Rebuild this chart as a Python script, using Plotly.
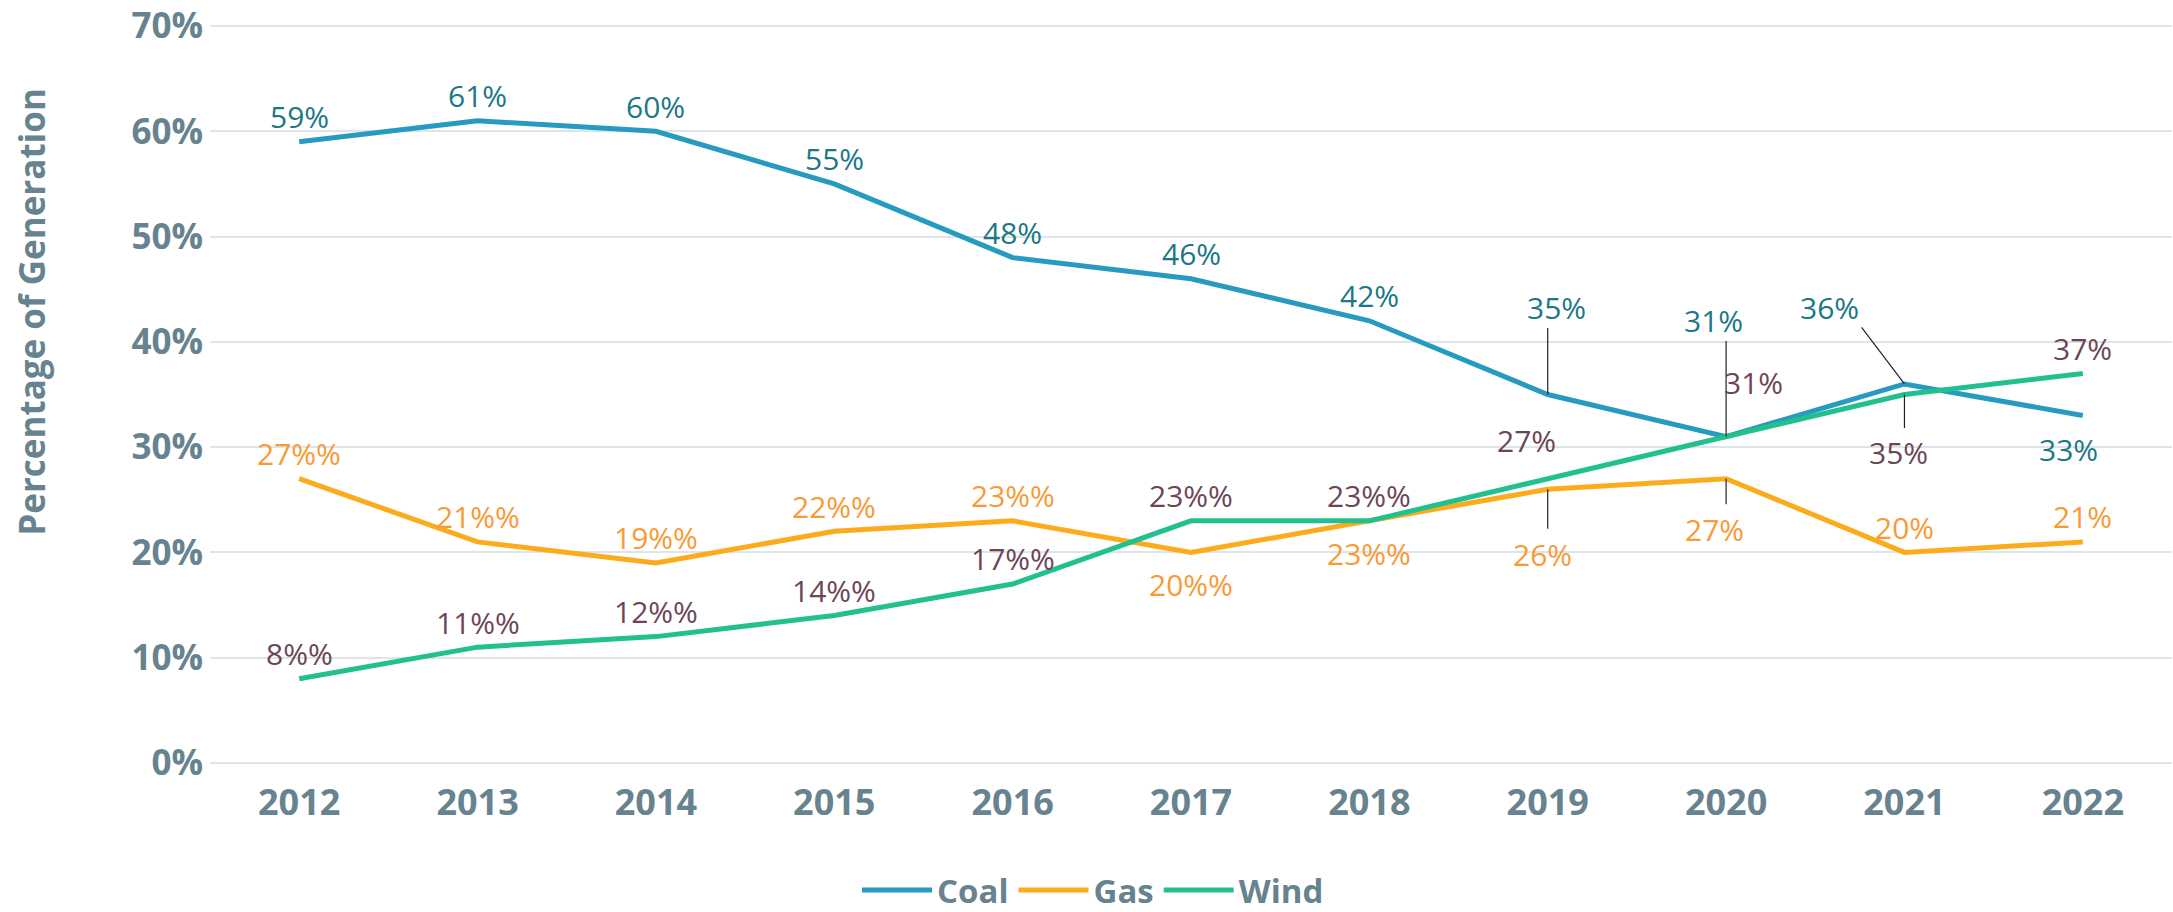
import plotly.graph_objects as go

# ---------------- data ----------------
years = [2012, 2013, 2014, 2015, 2016, 2017, 2018, 2019, 2020, 2021, 2022]
coal = [59, 61, 60, 55, 48, 46, 42, 35, 31, 36, 33]
gas = [27, 21, 19, 22, 23, 20, 23, 26, 27, 20, 21]
wind = [8, 11, 12, 14, 17, 23, 23, 27, 31, 35, 37]

coal_labels = ["59%", "61%", "60%", "55%", "48%", "46%", "42%", "35%", "31%", "36%", "33%"]
gas_labels = ["27%%", "21%%", "19%%", "22%%", "23%%", "20%%", "23%%", "26%", "27%", "20%", "21%"]
wind_labels = ["8%%", "11%%", "12%%", "14%%", "17%%", "23%%", "23%%", "27%", "31%", "35%", "37%"]

y_ticks = [0, 10, 20, 30, 40, 50, 60, 70]

# ---------------- styling ----------------
AXIS_GRAY = "#67838f"
FONT = "Open Sans"

# label offsets (dx, dy in px, +dy = up) and optional leader line (lx, ly) end offsets
series = [
    dict(name="Coal", values=coal, labels=coal_labels, color="#279bbf", label_color="#1b7886",
         offsets={7: (9, 87), 8: (-13, 116), 9: (-75, 76), 10: (-14, -34)},
         leaders={7: (0, 68), 8: (0, 97), 9: (-44, 58)}),
    dict(name="Gas", values=gas, labels=gas_labels, color="#fcab1c", label_color="#f89a36",
         offsets={5: (0, -32), 6: (0, -33), 7: (-5, -65), 8: (-12, -51)},
         leaders={7: (0, -41), 8: (0, -27)}),
    dict(name="Wind", values=wind, labels=wind_labels, color="#22c08e", label_color="#6c4656",
         offsets={7: (-21, 38), 8: (27, 54), 9: (-6, -58)},
         leaders={9: (0, -35)}),
]

fig = go.Figure()
annotations = []
for s in series:
    fig.add_trace(go.Scatter(
        x=years, y=s["values"], name=s["name"], mode="lines",
        line=dict(color=s["color"], width=5),
        hoverinfo="skip",
    ))
    for i, (yr, v, lab) in enumerate(zip(years, s["values"], s["labels"])):
        dx, dy = s["offsets"].get(i, (0, 25))
        annotations.append(dict(
            x=yr, y=v, xref="x", yref="y", text=lab, showarrow=False,
            xshift=dx, yshift=dy,
            font=dict(family=FONT, size=30, color=s["label_color"]),
        ))
        if i in s["leaders"]:
            lx, ly = s["leaders"][i]
            annotations.append(dict(
                x=yr, y=v, xref="x", yref="y", text="", showarrow=True,
                arrowhead=0, arrowwidth=1.2, arrowcolor="#222222", standoff=0,
                ax=lx, ay=-ly, axref="pixel", ayref="pixel",
            ))

# y-axis title as rotated annotation
annotations.append(dict(
    text="Percentage of Generation", textangle=-90, showarrow=False,
    xref="paper", yref="paper", x=-0.0907, y=0.612, xanchor="center", yanchor="middle",
    font=dict(family=FONT, size=35, color=AXIS_GRAY, weight="bold"),
))

fig.update_layout(
    width=2173, height=912,
    margin=dict(l=210, r=1, t=25, b=148, autoexpand=False),
    paper_bgcolor="white", plot_bgcolor="white",
    font=dict(family=FONT),
    showlegend=True,
    legend=dict(
        orientation="h", xref="container", yref="container",
        x=0.503, xanchor="center", y=0.024, yanchor="middle",
        font=dict(family=FONT, size=33, color=AXIS_GRAY, weight="bold"),
        itemwidth=70, traceorder="normal",
    ),
    annotations=annotations,
)

fig.update_xaxes(
    range=[2011.5, 2022.5], tickmode="array", tickvals=years,
    ticktext=[str(y) for y in years],
    showgrid=False, zeroline=False, showline=False, automargin=False,
    tickfont=dict(family=FONT, size=36, color=AXIS_GRAY, weight="bold"),
    ticklabelstandoff=14,
)
fig.update_yaxes(
    range=[-0.1, 70.1], tickmode="array", tickvals=y_ticks,
    ticktext=[f"{t}%" for t in y_ticks],
    showgrid=True, gridcolor="#dfe4e8", gridwidth=2,
    zeroline=False, showline=False, automargin=False,
    tickfont=dict(family=FONT, size=35, color=AXIS_GRAY, weight="bold"),
    ticklabelstandoff=6, ticklabeloverflow="allow",
)

fig.write_html("out.html", config={"displayModeBar": False},
               post_script="document.body.style.margin='0';")
